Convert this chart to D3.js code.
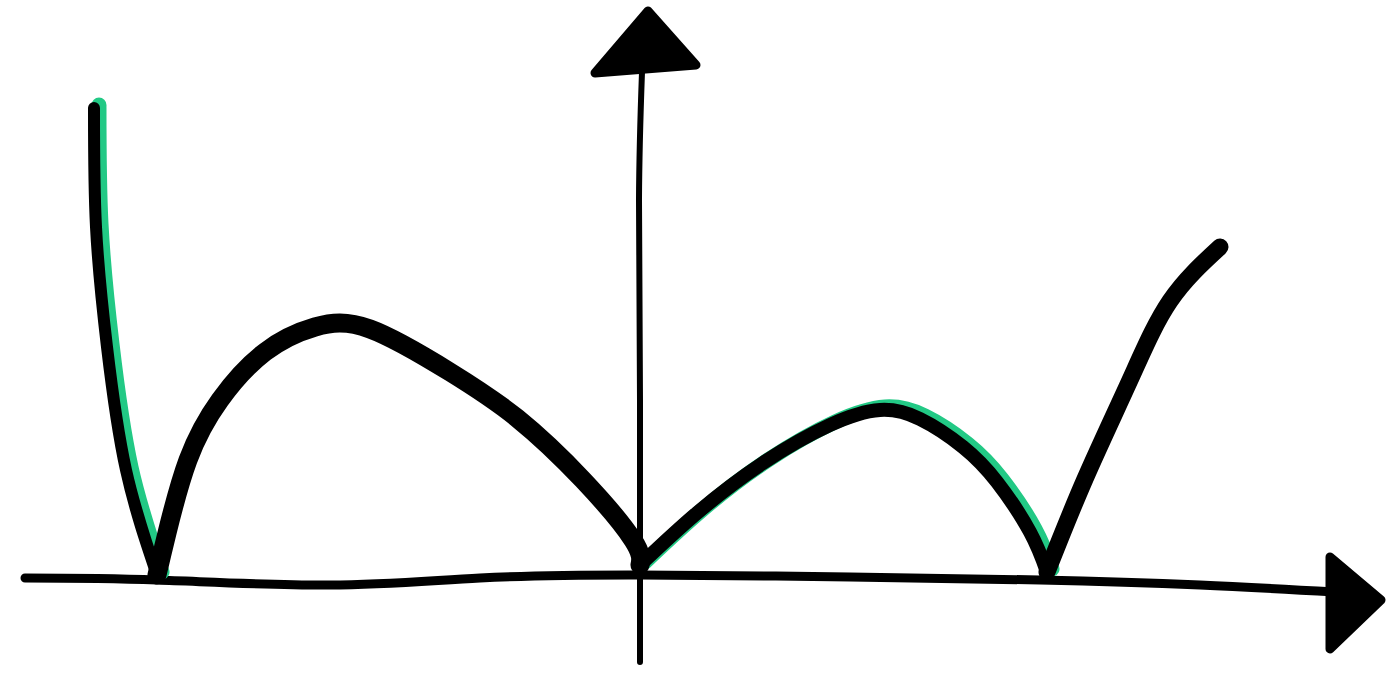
<!DOCTYPE html>
<html>
<head>
<meta charset="utf-8">
<script src="https://cdn.jsdelivr.net/npm/d3@7"></script>
<style>
  body { margin: 0; background: #fff; }
</style>
</head>
<body>
<div id="sketch"></div>
<script>
var svgWidth = 1387;
var svgHeight = 682;

// Curve pieces (arbitrary units, origin where the axes cross)
var leftBranch = [[-5.46, 4.69], [-5.44, 3.50], [-5.33, 2.30], [-5.14, 1.07], [-4.83, 0.02]];
var bigHump = [[-4.83, 0.02], [-4.73, 0.44], [-4.52, 1.17], [-4.20, 1.77],
  [-3.75, 2.25], [-3.25, 2.50], [-2.70, 2.48], [-1.90, 2.05], [-1.23, 1.59],
  [-0.57, 0.97], [-0.07, 0.37], [0, 0.12]];
var smallHump = [[0, 0.12], [0.57, 0.64], [1.23, 1.14], [1.90, 1.52],
  [2.40, 1.67], [2.80, 1.58], [3.23, 1.30], [3.57, 0.95], [3.90, 0.45], [4.07, 0.05]];
var rightBranch = [[4.07, 0.05], [4.45, 0.98], [4.90, 1.97], [5.30, 2.76], [5.80, 3.30]];

// hand drawn axes
var xAxisLine = [[-6.15, -0.01], [-4.83, -0.03], [-3.10, -0.08], [-1.60, -0.01], [0, 0.02],
  [2.10, 0], [4.0, -0.03], [5.6, -0.08], [6.95, -0.15]];
var yAxisLine = [[0, -0.85], [0, 1.77], [-0.01, 3.77], [0.02, 5.05]];
var upArrow = [[-0.45, 5.04], [0.08, 5.66], [0.56, 5.12]];
var rightArrow = [[6.90, 0.20], [7.41, -0.23], [6.90, -0.72]];

var svg = d3.select("#sketch")
  .append("svg")
  .attr("width", svgWidth)
  .attr("height", svgHeight);

var x = d3.scaleLinear().domain([-6.4, 7.47]).range([0, svgWidth]);
var y = d3.scaleLinear().domain([-1.05, 5.77]).range([svgHeight, 0]);

var line = d3.line()
  .x(d => x(d[0]))
  .y(d => y(d[1]))
  .curve(d3.curveNatural);

// axes
svg.append("path")
  .attr("d", line(xAxisLine))
  .attr("fill", "none")
  .attr("stroke", "#000")
  .attr("stroke-width", 9)
  .attr("stroke-linecap", "round");

svg.append("path")
  .attr("d", line(yAxisLine))
  .attr("fill", "none")
  .attr("stroke", "#000")
  .attr("stroke-width", 6)
  .attr("stroke-linecap", "round");

[upArrow, rightArrow].forEach(function(tri) {
  svg.append("path")
    .attr("d", "M" + tri.map(d => x(d[0]) + "," + y(d[1])).join("L") + "Z")
    .attr("fill", "#000")
    .attr("stroke", "#000")
    .attr("stroke-width", 9)
    .attr("stroke-linejoin", "round");
});

// green edge under the two green pieces
[leftBranch, smallHump].forEach(function(seg) {
  svg.append("path")
    .attr("d", line(seg))
    .attr("fill", "none")
    .attr("stroke", "#22c985")
    .attr("stroke-width", 15)
    .attr("stroke-linecap", "round")
    .attr("transform", "translate(5,-3)");
});

var pieces = [
  { pts: leftBranch, w: 12 },
  { pts: bigHump, w: 19 },
  { pts: smallHump, w: 14 },
  { pts: rightBranch, w: 17 }
];

pieces.forEach(function(p) {
  svg.append("path")
    .attr("d", line(p.pts))
    .attr("fill", "none")
    .attr("stroke", "#000")
    .attr("stroke-width", p.w)
    .attr("stroke-linecap", "round")
    .attr("stroke-linejoin", "round");
});
</script>
</body>
</html>
